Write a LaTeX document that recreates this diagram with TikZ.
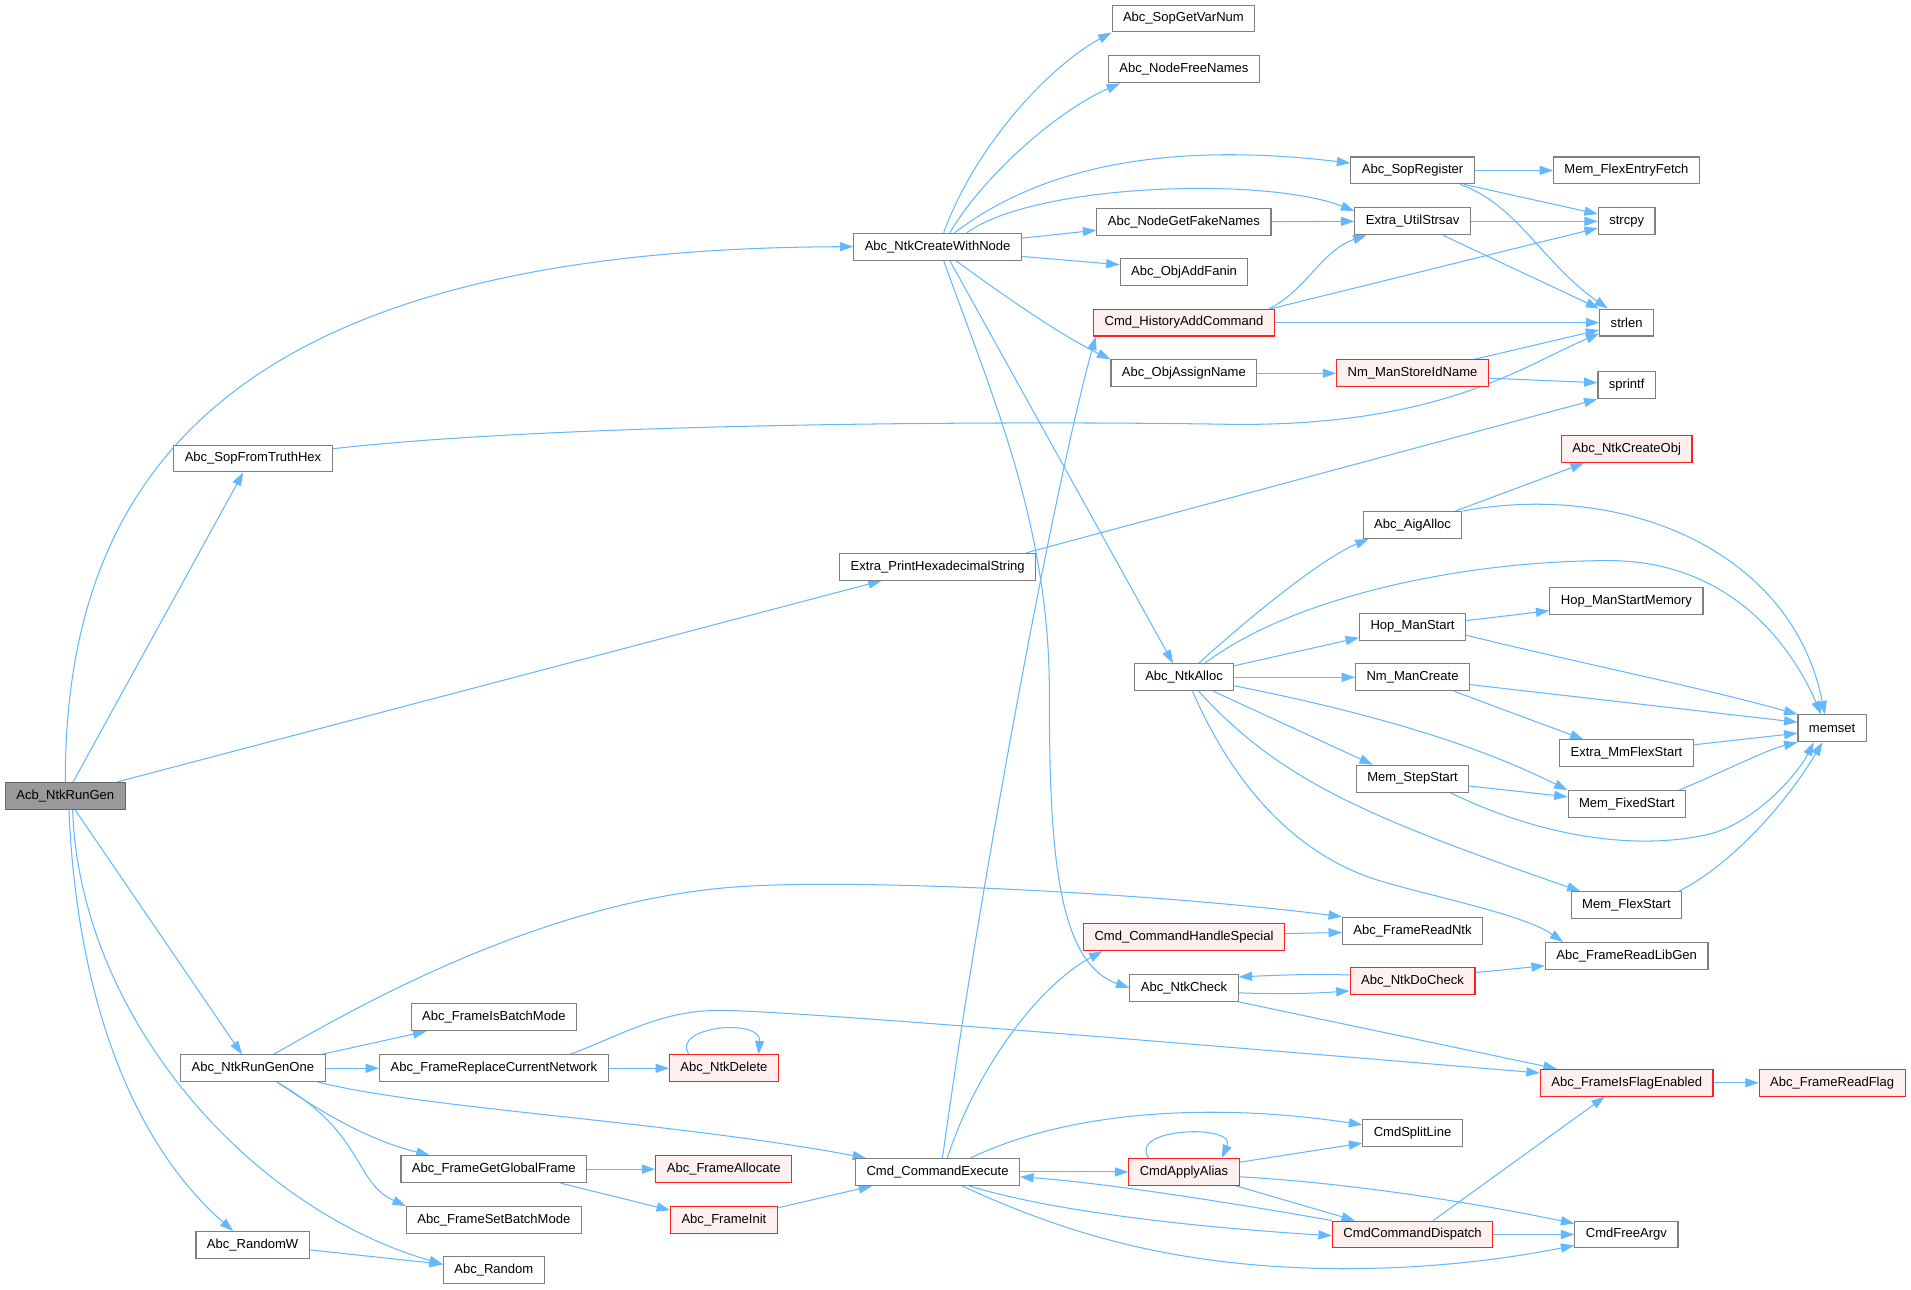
\documentclass[tikz,border=0pt]{standalone}
\usepackage{fontspec}
\setmainfont{Liberation Sans}
\usetikzlibrary{arrows.meta,backgrounds}
\definecolor{edgec}{HTML}{63B8FF}
\definecolor{boxc}{HTML}{7F7F7F}
\definecolor{rootborder}{HTML}{666666}
\definecolor{redfill}{HTML}{FFF0F0}
\definecolor{redborder}{HTML}{FF2020}
\definecolor{rootfill}{HTML}{999999}
\begin{document}
\begin{tikzpicture}[x=1pt,y=-1pt,
  fn/.style={draw=boxc, line width=0.9pt, fill=white, inner xsep=9pt, inner ysep=0pt, minimum height=22pt, font=\fontsize{10.7}{12}\selectfont, text=black},
  redfn/.style={fn, draw=redborder, fill=redfill},
  rootfn/.style={fn, fill=rootfill, draw=rootborder},
  e/.style={draw=edgec, line width=0.85pt, -{Triangle[length=11pt,width=7.5pt]}}]
\useasboundingbox (0,0) rectangle (1568,1058);
% nodes
\node[rootfn] (r) at (53.6,653) {Acb\_NtkRunGen};
\node[fn] (sfth) at (207.6,376.2) {Abc\_SopFromTruthHex};
\node[fn] (rgo) at (207.5,876.5) {Abc\_NtkRunGenOne};
\node[fn] (rw) at (207.3,1021.5) {Abc\_RandomW};
\node[fn] (fibm) at (405.2,834.7) {Abc\_FrameIsBatchMode};
\node[fn] (frcn) at (405.2,876.5) {Abc\_FrameReplaceCurrentNetwork};
\node[fn] (fggf) at (405.2,959.3) {Abc\_FrameGetGlobalFrame};
\node[fn] (fsbm) at (405.2,1001) {Abc\_FrameSetBatchMode};
\node[fn] (rnd) at (405.2,1042.3) {Abc\_Random};
\node[redfn] (ndel) at (594,876.5) {Abc\_NtkDelete};
\node[redfn] (falloc) at (593.8,959.3) {Abc\_FrameAllocate};
\node[redfn] (finit) at (594,1001) {Abc\_FrameInit};
\node[fn] (cwn) at (769.3,202.4) {Abc\_NtkCreateWithNode};
\node[fn] (eph) at (769.4,465) {Extra\_PrintHexadecimalString};
\node[fn] (cce) at (769.3,961.6) {Cmd\_CommandExecute};
\node[fn] (sgvn) at (971,15.2) {Abc\_SopGetVarNum};
\node[fn] (nfn) at (971.4,56.9) {Abc\_NodeFreeNames};
\node[fn] (ngfn) at (971.4,181.9) {Abc\_NodeGetFakeNames};
\node[fn] (oaf) at (971.5,223.2) {Abc\_ObjAddFanin};
\node[redfn] (chac) at (971.5,264.7) {Cmd\_HistoryAddCommand};
\node[fn] (oan) at (971.4,306.3) {Abc\_ObjAssignName};
\node[fn] (nta) at (971.5,555.7) {Abc\_NtkAlloc};
\node[redfn] (chs) at (971.5,769) {Cmd\_CommandHandleSpecial};
\node[fn] (nchk) at (971.5,810.6) {Abc\_NtkCheck};
\node[redfn] (caa) at (971.5,961.6) {CmdApplyAlias};
\node[fn] (sreg) at (1159,139.8) {Abc\_SopRegister};
\node[fn] (eus) at (1159,181.6) {Extra\_UtilStrsav};
\node[redfn] (nmsin) at (1159,306.3) {Nm\_ManStoreIdName};
\node[fn] (aiga) at (1159,430.8) {Abc\_AigAlloc};
\node[fn] (hms) at (1159,514.2) {Hop\_ManStart};
\node[fn] (nmc) at (1159,555.7) {Nm\_ManCreate};
\node[fn] (mss) at (1159,638.9) {Mem\_StepStart};
\node[fn] (frntk) at (1159,763.6) {Abc\_FrameReadNtk};
\node[redfn] (ndc) at (1159,805) {Abc\_NtkDoCheck};
\node[fn] (csl) at (1159,929.9) {CmdSplitLine};
\node[redfn] (ccd) at (1159,1012.9) {CmdCommandDispatch};
\node[fn] (mfef) at (1334.5,139.8) {Mem\_FlexEntryFetch};
\node[fn] (strcpy) at (1334.7,181.6) {strcpy};
\node[fn] (strlen) at (1334.7,264.7) {strlen};
\node[fn] (sprintf) at (1334.7,316) {sprintf};
\node[redfn] (nco) at (1334.7,368.5) {Abc\_NtkCreateObj};
\node[fn] (hmsm) at (1334.5,493.1) {Hop\_ManStartMemory};
\node[fn] (emfs) at (1334.5,618.1) {Extra\_MmFlexStart};
\node[fn] (mfxs) at (1334.9,659.8) {Mem\_FixedStart};
\node[fn] (mfls) at (1334.5,742.8) {Mem\_FlexStart};
\node[fn] (frlg) at (1334.7,784.4) {Abc\_FrameReadLibGen};
\node[redfn] (fife) at (1334.7,888.4) {Abc\_FrameIsFlagEnabled};
\node[fn] (cfa) at (1334.5,1012.9) {CmdFreeArgv};
\node[fn] (memset) at (1503.3,597.6) {memset};
\node[redfn] (frf) at (1503.3,888.4) {Abc\_FrameReadFlag};
% edges
\begin{scope}[on background layer]
\fill[white] (0,0) rectangle (1568,1058);
% root
\draw[e] (r.north) .. controls (53,380) and (200,204) .. (cwn.west);
\draw[e] ([xshift=6.4pt]r.north) -- ([xshift=-8pt]sfth.south);
\draw[e] ([xshift=-7pt]r.north east) -- ([xshift=-46pt]eph.south);
\draw[e] ([xshift=8pt]r.south) -- ([xshift=-9pt]rgo.north);
\draw[e] ([xshift=3pt]r.south) .. controls (62,800) and (100,930) .. ([xshift=-16pt]rw.north);
\draw[e] ([xshift=6pt]r.south) .. controls (65,830) and (200,990) .. ([yshift=5pt]rnd.west);
% SopFromTruthHex
\draw[e] ([yshift=8pt]sfth.east) .. controls (450,348) and (800,345) .. (1000,348) .. controls (1180,352) and (1250,300) .. ([yshift=-9pt]strlen.west);
% CreateWithNode
\draw[e] ([xshift=5pt]cwn.north) .. controls (800,120) and (860,55) .. (sgvn.south west);
\draw[e] ([xshift=10pt]cwn.north) .. controls (810,140) and (870,90) .. ([xshift=10pt]nfn.south west);
\draw[e] ([xshift=14pt]cwn.north) .. controls (850,140) and (950,115) .. ([yshift=6pt]sreg.west);
\draw[e] ([xshift=24pt]cwn.north) .. controls (850,150) and (1040,145) .. ([yshift=-3pt]eus.north west);
\draw[e] ([yshift=7pt]cwn.east) -- ([yshift=-7pt]ngfn.west);
\draw[e] ([yshift=-8pt]cwn.east) -- ([yshift=6pt]oaf.west);
\draw[e] ([xshift=15pt]cwn.south) .. controls (820,240) and (870,275) .. (oan.north west);
\draw[e] ([xshift=10pt]cwn.south) -- ([xshift=-9pt]nta.north);
\draw[e] ([xshift=5pt]cwn.south) .. controls (812,320) and (862,430) .. (861,572) .. controls (861,700) and (868,790) .. (nchk.west);
% CommandExecute up
\draw[e] ([xshift=4pt]cce.north) .. controls (805,720) and (865,400) .. ([xshift=2pt]chac.south west);
\draw[e] ([xshift=8pt]cce.north) .. controls (800,880) and (850,810) .. ([xshift=16pt]chs.south west);
% upper right
\draw[e] (sreg.east) -- (mfef.west);
\draw[e] ([xshift=-9pt]sreg.south east) -- ([yshift=6pt]strcpy.west);
\draw[e] ([xshift=-12pt]sreg.south east) .. controls (1245,168) and (1265,215) .. ([xshift=7pt]strlen.north west);
\draw[e] (ngfn.east) -- (eus.west);
\draw[e] (eus.east) -- (strcpy.west);
\draw[e] ([xshift=25pt]eus.south) -- (strlen.north west);
\draw[e] ([xshift=-5pt]chac.north east) .. controls (1070,240) and (1085,205) .. ([xshift=10pt]eus.south west);
\draw[e] ([xshift=-3pt]chac.north east) -- ([yshift=-5.5pt]strcpy.west);
\draw[e] (chac.east) -- (strlen.west);
\draw[e] (oan.east) -- (nmsin.west);
\draw[e] ([xshift=-12pt]nmsin.north east) -- ([yshift=-6pt]strlen.west);
\draw[e] ([yshift=-4pt]nmsin.east) -- ([yshift=2pt]sprintf.west);
\draw[e] ([xshift=-8pt]eph.north east) -- (sprintf.south west);
% NtkAlloc
\draw[e] ([xshift=12pt]nta.north) .. controls (1010,520) and (1080,460) .. ([xshift=5pt]aiga.south west);
\draw[e] ([xshift=17pt]nta.north) .. controls (1060,490) and (1200,460) .. (1320,460) .. controls (1420,460) and (1470,530) .. ([xshift=-9pt]memset.north);
\draw[e] ([yshift=-2pt]nta.north east) -- ([yshift=-9pt]hms.west);
\draw[e] (nta.east) -- (nmc.west);
\draw[e] ([xshift=24pt]nta.south) -- ([xshift=14pt]mss.north west);
\draw[e] ([yshift=-7pt]nta.east) .. controls (1100,580) and (1200,605) .. (mfxs.north west);
\draw[e] ([xshift=12pt]nta.south) .. controls (1050,640) and (1120,670) .. ([xshift=8pt]mfls.north west);
\draw[e] ([xshift=7pt]nta.south) .. controls (1010,640) and (1060,700) .. (1130,722) .. controls (1170,734.6) and (1250,750) .. ([xshift=15pt]frlg.north west);
\draw[e] ([xshift=-6pt]aiga.north east) -- ([xshift=19pt]nco.south west);
\draw[e] (aiga.north east) .. controls (1330,395) and (1470,450) .. ([xshift=-6pt]memset.north);
\draw[e] ([yshift=5pt]hms.east) -- ([yshift=-8pt]hmsm.west);
\draw[e] ([yshift=-7pt]hms.east) .. controls (1300,545) and (1400,565) .. (memset.north west);
\draw[e] ([yshift=-6pt]nmc.east) -- ([yshift=5pt]memset.west);
\draw[e] ([xshift=34pt]nmc.south) -- ([xshift=20pt]emfs.north west);
\draw[e] ([yshift=7pt]emfs.east) -- ([yshift=-4pt]memset.west);
\draw[e] ([yshift=-6pt]mss.east) -- ([yshift=6pt]mfxs.west);
\draw[e] ([xshift=31pt]mss.south) .. controls (1250,680) and (1330,700) .. (1400,685) .. controls (1440,676) and (1475,635) .. ([xshift=-15pt]memset.south);
\draw[e] ([xshift=-6pt]mfxs.north east) .. controls (1410,635) and (1450,615) .. (memset.south west);
\draw[e] ([xshift=-3pt]mfls.north east) .. controls (1420,710) and (1465,660) .. ([xshift=-8pt]memset.south);
% middle
\draw[e] ([yshift=3pt]chs.east) -- ([yshift=-1.5pt]frntk.west);
\draw[e] ([xshift=17pt]rgo.north) .. controls (290,828) and (440,741) .. (600,728) .. controls (700,720) and (950,733) .. (frntk.north west);
\draw[e] ([yshift=-4pt]nchk.east) .. controls (1050,816) and (1080,815) .. ([yshift=-8pt]ndc.west);
\draw[e] ([yshift=5pt]ndc.west) .. controls (1080,799) and (1050,800) .. ([yshift=9pt]nchk.east);
\draw[e] ([yshift=7pt]ndc.east) -- ([yshift=-8pt]frlg.west);
\draw[e] (nchk.south east) -- ([xshift=14pt]fife.north west);
% bottom left
\draw[e] (frcn.east) -- (ndel.west);
\draw[e] ([xshift=-32pt]frcn.north east) .. controls (505,852) and (540,829) .. (590,829) .. controls (640,829) and (900,850) .. ([yshift=8pt]fife.west);
\draw[e] ([xshift=-28.7pt]ndel.north) .. controls (550,842) and (625,835) .. ([xshift=28.3pt]ndel.north);
\draw[e] ([xshift=-3pt]rgo.north east) -- ([xshift=13pt]fibm.south west);
\draw[e] (rgo.east) -- (frcn.west);
\draw[e] ([xshift=-6pt]rgo.south east) .. controls (350,910) and (550,920) .. ([xshift=9pt]cce.north west);
\draw[e] ([xshift=20pt]rgo.south) .. controls (260,910) and (300,935) .. ([xshift=24pt]fggf.north west);
\draw[e] ([xshift=20pt]rgo.south) .. controls (300,930) and (290,970) .. (fsbm.north west);
\draw[e] (fggf.east) -- (falloc.west);
\draw[e] ([xshift=-22pt]fggf.south east) -- ([yshift=8pt]finit.west);
\draw[e] ([yshift=10pt]finit.east) -- ([xshift=14pt]cce.south west);
\draw[e] ([yshift=-4pt]rw.east) -- ([yshift=5pt]rnd.west);
% bottom right
\draw[e] ([xshift=27pt]cce.north) .. controls (880,910) and (1000,905) .. ([yshift=7pt]csl.west);
\draw[e] (cce.east) -- (caa.west);
\draw[e] (ccd.north west) .. controls (1000,985) and (900,970) .. ([yshift=-4pt]cce.east);
\draw[e] ([xshift=26pt]cce.south) .. controls (850,990) and (950,1005) .. ([yshift=-1pt]ccd.west);
\draw[e] ([xshift=20pt]cce.south) .. controls (870,1010) and (960,1040) .. (1100,1041) .. controls (1180,1041) and (1240,1032) .. ([yshift=-9pt]cfa.west);
\draw[e] ([xshift=-29pt]caa.north) .. controls (925,925) and (1015,922) .. ([xshift=31pt]caa.north);
\draw[e] ([yshift=8pt]caa.east) -- ([yshift=-8pt]csl.west);
\draw[e] ([yshift=-4pt]caa.east) .. controls (1100,970) and (1200,985) .. ([yshift=9pt]cfa.west);
\draw[e] ([xshift=-3pt]caa.south east) -- ([xshift=19pt]ccd.north west);
\draw[e] (ccd.east) -- (cfa.west);
\draw[e] ([xshift=17pt]ccd.north) -- ([xshift=-18pt]fife.south);
\draw[e] (fife.east) -- (frf.west);
\end{scope}
\end{tikzpicture}
\end{document}
